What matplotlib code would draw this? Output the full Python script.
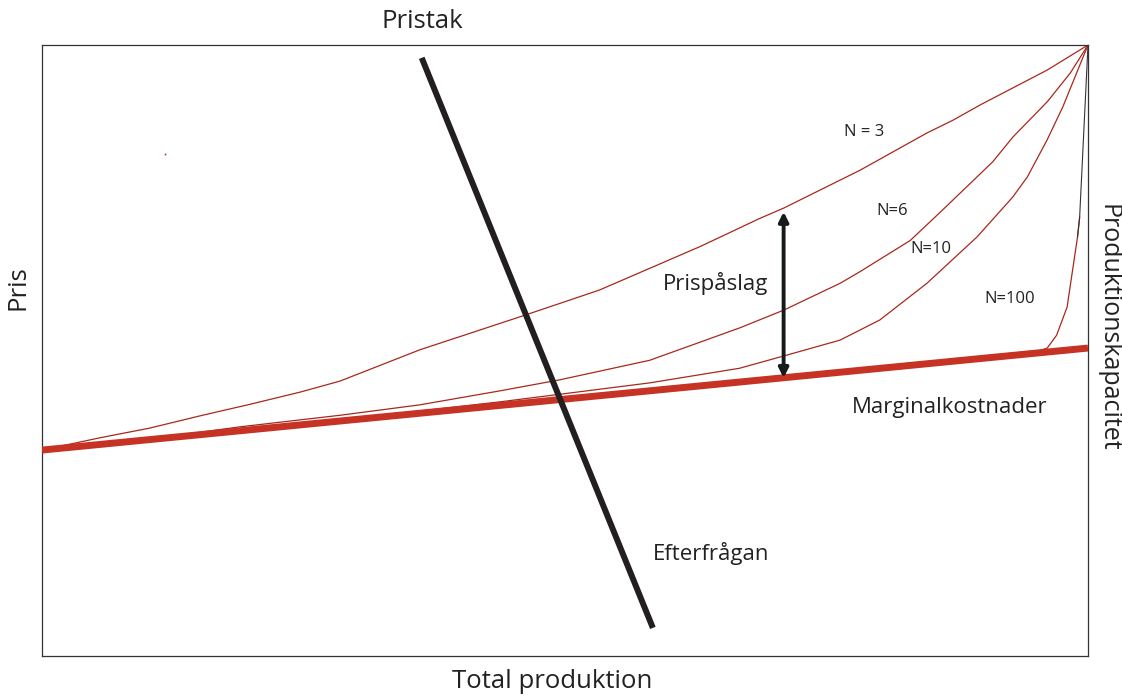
import matplotlib
matplotlib.use("Agg")
import matplotlib.pyplot as plt

plt.rcParams['font.family'] = ['Open Sans', 'DejaVu Sans']

# Data (x: total production 0-100, y: price 0-100)
mc_x = [0, 100]
mc_y = [33.7, 50.4]

demand_x = [36.3, 58.4]
demand_y = [97.9, 4.6]

n3_x = [0, 5.5, 10.3, 15.1, 19.9, 24.7, 28.5, 36.1, 46.2, 53.3, 62.9, 68.6, 70.9, 78.2, 84.6, 87.1, 89.7, 96.1, 100]
n3_y = [33.7, 35.7, 37.3, 39.3, 41.2, 43.2, 45.0, 50.1, 55.8, 59.9, 67.0, 71.6, 73.3, 79.5, 85.6, 87.7, 90.2, 95.9, 100]

n6_x = [0, 10.3, 18.9, 28.5, 36.1, 43.8, 49.5, 58.1, 66.7, 70.9, 76.3, 78.2, 83.0, 86.1, 90.9, 92.8, 96.1, 98.3, 100]
n6_y = [33.7, 35.5, 37.5, 39.4, 41.1, 43.4, 45.2, 48.4, 53.7, 56.6, 61.0, 62.9, 68.0, 73.0, 80.9, 84.9, 90.7, 95.4, 100]

n10_x = [0, 28.5, 43.8, 58.1, 66.7, 70.9, 76.3, 80.1, 84.6, 89.4, 92.8, 94.2, 96.1, 97.6, 100]
n10_y = [33.7, 38.6, 41.6, 44.7, 47.1, 49.1, 51.7, 55.0, 61.0, 68.6, 75.1, 78.4, 84.5, 89.9, 100]

n100_x = [0, 50.0, 95.4, 96.1, 97.0, 98.0, 99.0, 99.2]
n100_y = [33.9, 42.3, 50.0, 50.4, 52.5, 57.1, 68.6, 71.8]
n100_tip_x = [99.0, 99.2, 100]
n100_tip_y = [68.6, 71.8, 100]

arrow_x = 70.9
arrow_y = [45.5, 72.7]

curve_labels = ["N = 3", "N=6", "N=10", "N=100"]
curve_label_x = [78.6, 81.3, 85.0, 92.5]
curve_label_y = [85.8, 72.8, 66.6, 58.4]

fig = plt.figure(figsize=(11.22, 6.97), dpi=100)
ax = fig.add_axes([42/1122, 41/697, 1046/1122, 611/697])
ax.set_xlim(0, 100)
ax.set_ylim(0, 100)
ax.set_xticks([])
ax.set_yticks([])
for s in ax.spines.values():
    s.set_color('#333333')
    s.set_linewidth(0.9)

curve_color = '#a8281c'
ax.plot(n3_x, n3_y, color=curve_color, lw=0.9, zorder=2)
ax.plot(n6_x, n6_y, color=curve_color, lw=0.9, zorder=2)
ax.plot(n10_x, n10_y, color=curve_color, lw=0.9, zorder=2)
ax.plot(n100_x, n100_y, color=curve_color, lw=0.9, zorder=2)
ax.plot(n100_tip_x, n100_tip_y, color='#333333', lw=0.8, zorder=2)

ax.plot(mc_x, mc_y, color='#c63224', lw=5.0, solid_capstyle='butt', zorder=3)
ax.plot(demand_x, demand_y, color='#231f20', lw=4.3, solid_capstyle='butt', zorder=4)

ax.annotate('', xy=(arrow_x, arrow_y[1]), xytext=(arrow_x, arrow_y[0]),
            arrowprops=dict(arrowstyle='<|-|>', color='#161a1a', lw=2.8,
                            mutation_scale=14, shrinkA=0, shrinkB=0), zorder=5)

ax.plot([11.8], [82.2], marker='s', ms=1.2, color='#c63224', mew=0)

for lab, lx, ly in zip(curve_labels, curve_label_x, curve_label_y):
    ax.text(lx, ly, lab, fontsize=12, color='#222222', ha='center', va='center')

ax.text(64.4, 61.0, 'Prispåslag', fontsize=16, color='#222222', ha='center', va='center')
ax.text(64.0, 16.8, 'Efterfrågan', fontsize=16, color='#222222', ha='center', va='center')
ax.text(86.8, 40.6, 'Marginalkostnader', fontsize=16, color='#222222', ha='center', va='center')

fig.text(422/1122, 1 - 22/697, 'Pristak', fontsize=18.5, color='#222222', ha='center', va='center')
fig.text(18/1122, 1 - 288/697, 'Pris', fontsize=18.5, color='#222222', ha='center', va='center', rotation=90)
fig.text(552/1122, 1 - 682/697, 'Total produktion', fontsize=18.5, color='#222222', ha='center', va='center')
fig.text(1108/1122, 1 - 328/697, 'Produktionskapacitet', fontsize=18, color='#222222', ha='center', va='center', rotation=-90)

fig.savefig('out.png', dpi=100, facecolor='white')
